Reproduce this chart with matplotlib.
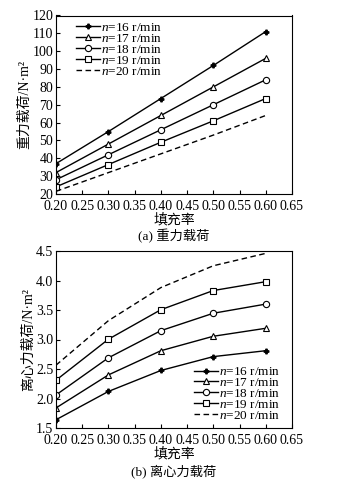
import matplotlib
matplotlib.use("Agg")
import matplotlib.pyplot as plt

plt.rcParams['font.family'] = ['Liberation Serif', 'Noto Sans CJK SC', 'DejaVu Sans']
plt.rcParams['mathtext.fontset'] = 'custom'
plt.rcParams['mathtext.it'] = 'Liberation Serif:italic'
plt.rcParams['mathtext.rm'] = 'Liberation Serif'

fill = [0.20, 0.30, 0.40, 0.50, 0.60]
speeds = [16, 17, 18, 19, 20]

gravity = {
    16: [37, 55, 73.5, 92, 111],
    17: [32, 48, 64, 80, 96],
    18: [28, 42, 56, 70, 84],
    19: [24, 36.5, 49, 61, 73.5],
    20: [21.5, 32, 42.5, 53, 64],
}
centrifugal = {
    16: [1.64, 2.12, 2.475, 2.71, 2.81],
    17: [1.84, 2.40, 2.81, 3.055, 3.19],
    18: [2.06, 2.69, 3.15, 3.445, 3.60],
    19: [2.31, 3.005, 3.505, 3.83, 3.98],
    20: [2.565, 3.32, 3.88, 4.25, 4.46],
}

xticks = [0.20, 0.25, 0.30, 0.35, 0.40, 0.45, 0.50, 0.55, 0.60, 0.65]
yticks_a = [20, 30, 40, 50, 60, 70, 80, 90, 100, 110, 120]
yticks_b = [1.5, 2.0, 2.5, 3.0, 3.5, 4.0, 4.5]

styles = {
    16: dict(marker='P', ms=3.5, ls='-', mfc='k'),
    17: dict(marker='^', ms=4.5, ls='-', mfc='white'),
    18: dict(marker='o', ms=4.5, ls='-', mfc='white'),
    19: dict(marker='s', ms=4.5, ls='-', mfc='white'),
    20: dict(marker=None, ls=(0, (4, 2.5))),
}

W, H = 338, 483
fig = plt.figure(figsize=(W / 100, H / 100), dpi=100)

ax1 = fig.add_axes([56 / W, 1 - 194 / H, (292 - 56) / W, (194 - 15.5) / H])
ax2 = fig.add_axes([56 / W, 1 - 428 / H, (292 - 56) / W, (428 - 251) / H])

fs = 10


def draw(ax, data, yticks, ylim, ylabel, caption, legloc, legbox):
    for n in speeds:
        st = styles[n]
        ax.plot(fill, data[n], color='k', lw=1.0, linestyle=st['ls'],
                marker=st['marker'], ms=st.get('ms', 4), mfc=st.get('mfc', 'white'),
                mec='k', mew=0.8, label=f'$n$=%d r/min' % n)
    ax.set_xlim(0.2, 0.65)
    ax.set_ylim(*ylim)
    ax.set_xticks(xticks)
    ax.set_xticklabels(['%.2f' % v for v in xticks], fontsize=fs)
    ax.set_yticks(yticks)
    if isinstance(yticks[0], float):
        ax.set_yticklabels(['%.1f' % v for v in yticks], fontsize=fs)
    else:
        ax.set_yticklabels([str(v) for v in yticks], fontsize=fs)
    ax.tick_params(direction='in', length=3, width=0.8, pad=2)
    ax.tick_params(axis='x', pad=4.5)
    for s in ax.spines.values():
        s.set_linewidth(0.8)
    ax.set_ylabel(ylabel, fontsize=fs, labelpad=1)
    ax.set_xlabel('填充率', fontsize=fs, labelpad=0)
    ax.text(0.5, caption[1], caption[0], transform=ax.transAxes, ha='center',
            va='center', fontsize=fs - 0.5)
    leg = ax.legend(loc=legloc, bbox_to_anchor=legbox, frameon=False, fontsize=9.5,
                    handlelength=1.8, handletextpad=0.1, labelspacing=-0.1,
                    borderaxespad=0.0, borderpad=0.0)
    return leg


draw(ax1, gravity, yticks_a, (20, 120), '重力载荷/N·m²', ('(a) 重力载荷', -0.235),
     'upper left', (0.085, 0.965))
draw(ax2, centrifugal, yticks_b, (1.5, 4.5), '离心力载荷/N·m²', ('(b) 离心力载荷', -0.245),
     'lower right', (0.95, 0.035))

fig.savefig('out.png', dpi=100)
